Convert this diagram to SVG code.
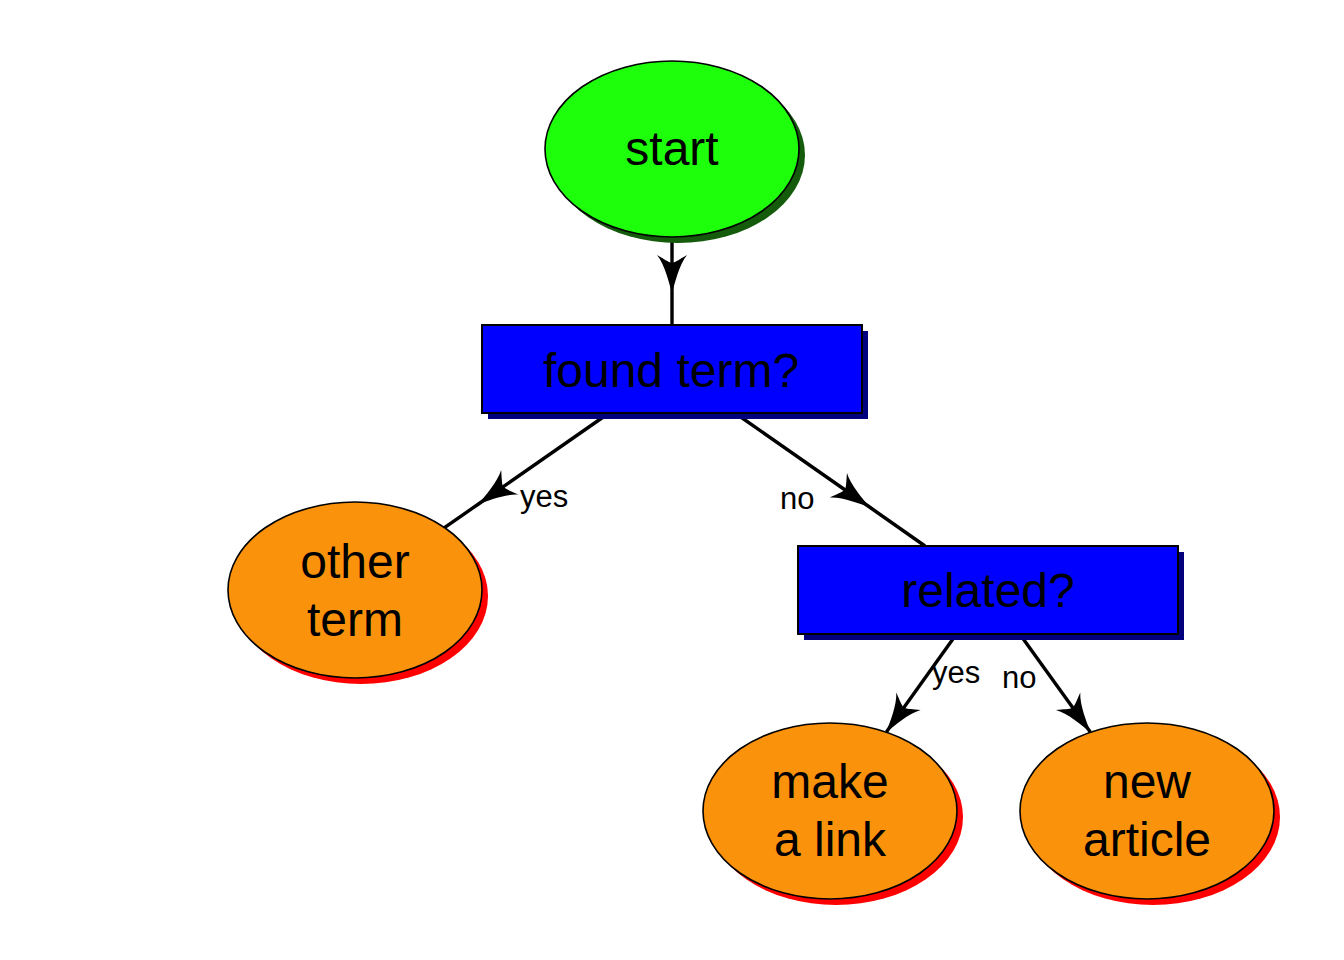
<svg xmlns="http://www.w3.org/2000/svg" width="1344" height="960" viewBox="0 0 1344 960">
<style>
  .edge { fill: none; stroke: #000; stroke-width: 3.4; }
  .ell { stroke: #000; stroke-width: 1.6; }
  .box { fill: #0000ff; stroke: #000; stroke-width: 2; }
  .bshadow { fill: #00007f; }
  .rshadow { fill: #ff0000; }
  .gshadow { fill: #145c0c; }
  .orange { fill: #fb920c; }
  .green { fill: #1eff0c; }
  .t { font-family: "Liberation Sans", Arial, sans-serif; font-size: 48px; fill: #000; text-anchor: middle; }
  .lbl { font-family: "Liberation Sans", Arial, sans-serif; font-size: 31px; fill: #000; }
</style>
<defs>
  <marker id="ah" markerUnits="userSpaceOnUse" markerWidth="60" markerHeight="40" viewBox="-40 -20 60 40" refX="0" refY="0" orient="auto" overflow="visible">
    <path d="M0,0 C-10,-3 -28,-7 -38,-15 C-34,-8 -31,-4 -30,0 C-31,4 -34,8 -38,15 C-28,7 -10,3 0,0 Z" fill="#000"/>
  </marker>
</defs>
<rect width="1344" height="960" fill="#fff"/>
<g id="connectors">
  <path class="edge" d="M672,237 L672,293 L672,325" marker-mid="url(#ah)"/>
  <path class="edge" d="M609,413 L478.5,504 L444.5,527.6" marker-mid="url(#ah)"/>
  <path class="edge" d="M735,413 L869.5,507 L925,546" marker-mid="url(#ah)"/>
  <path class="edge" d="M956.5,634 L886.4,732.1" marker-end="url(#ah)"/>
  <path class="edge" d="M1019.7,634 L1090.3,732.1" marker-end="url(#ah)"/>
  <text class="lbl" x="520" y="507">yes</text>
  <text class="lbl" x="780" y="509">no</text>
  <text class="lbl" x="932" y="683">yes</text>
  <text class="lbl" x="1002" y="688">no</text>
</g>
<g id="start">
  <ellipse class="gshadow" cx="678" cy="155" rx="127" ry="88"/>
  <ellipse class="ell green" cx="672" cy="149" rx="127" ry="88"/>
  <text class="t" x="672" y="165">start</text>
</g>
<g id="found_term">
  <rect class="bshadow" x="488" y="331" width="380" height="88"/>
  <rect class="box" x="482" y="325" width="380" height="88"/>
  <text class="t" x="671" y="387">found term?</text>
</g>
<g id="other_term">
  <ellipse class="rshadow" cx="361" cy="596" rx="127" ry="88"/>
  <ellipse class="ell orange" cx="355" cy="590" rx="127" ry="88"/>
  <text class="t" x="355" y="578">other</text>
  <text class="t" x="355" y="636">term</text>
</g>
<g id="related">
  <rect class="bshadow" x="804" y="552" width="380" height="88"/>
  <rect class="box" x="798" y="546" width="380" height="88"/>
  <text class="t" x="988" y="607">related?</text>
</g>
<g id="make_a_link">
  <ellipse class="rshadow" cx="836" cy="817" rx="127" ry="88"/>
  <ellipse class="ell orange" cx="830" cy="811" rx="127" ry="88"/>
  <text class="t" x="830" y="798">make</text>
  <text class="t" x="830" y="856">a link</text>
</g>
<g id="new_article">
  <ellipse class="rshadow" cx="1153" cy="817" rx="127" ry="88"/>
  <ellipse class="ell orange" cx="1147" cy="811" rx="127" ry="88"/>
  <text class="t" x="1147" y="798">new</text>
  <text class="t" x="1147" y="856">article</text>
</g>
</svg>
